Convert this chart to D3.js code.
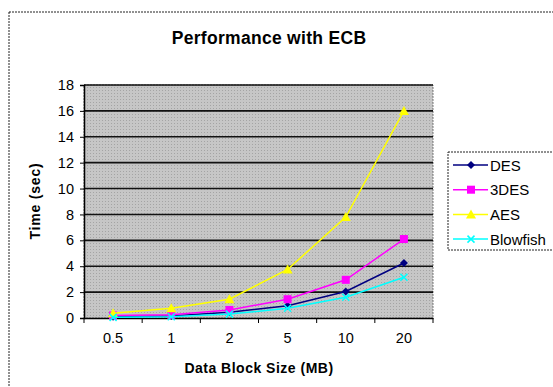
<!DOCTYPE html>
<html><head><meta charset="utf-8">
<script src="https://cdn.jsdelivr.net/npm/d3@7"></script>
<style>body{margin:0;background:#fff}svg{display:block;font-family:"Liberation Sans",Arial,sans-serif}</style>
</head><body><svg id="c" width="553" height="387"></svg>
<script>
const categories = ["0.5","1","2","5","10","20"];
const DES = [0.1, 0.15, 0.45, 0.95, 2.05, 4.25];
const TDES = [0.2, 0.25, 0.62, 1.45, 2.95, 6.1];
const AES = [0.36, 0.75, 1.45, 3.75, 7.8, 16.0];
const Blowfish = [0.05, 0.1, 0.3, 0.75, 1.6, 3.15];
const yTicks = [0,2,4,6,8,10,12,14,16,18];
const series = [
  {name:"DES", values:DES, color:"#000080", marker:"diamond"},
  {name:"3DES", values:TDES, color:"#ff00ff", marker:"square"},
  {name:"AES", values:AES, color:"#ffff00", marker:"triangle"},
  {name:"Blowfish", values:Blowfish, color:"#00ffff", marker:"x"}
];
const svg = d3.select("#c");
const L=84,R=433,T=85,B=318;
const x = d3.scaleBand().domain(categories).range([L,R]);
const y = d3.scaleLinear().domain([0,18]).range([B,T]);
const FF = "Liberation Sans, Arial, sans-serif";

// outer border
svg.append("rect").attr("x",9).attr("y",12).attr("width",600).attr("height",400)
  .attr("fill","#fff").attr("stroke","#222").attr("stroke-dasharray","2,1").attr("stroke-width",1);

// plot background with pattern
const defs = svg.append("defs");
const pat = defs.append("pattern").attr("id","dots").attr("width",3).attr("height",3).attr("patternUnits","userSpaceOnUse");
pat.append("rect").attr("width",3).attr("height",3).attr("fill","#c6c6c6");
pat.append("rect").attr("width",1).attr("height",1).attr("fill","#a4a4a4");
svg.append("rect").attr("x",L).attr("y",T).attr("width",R-L).attr("height",B-T)
  .attr("fill","url(#dots)").attr("stroke","#808080").attr("stroke-dasharray","2,1");

// gridlines
svg.append("g").selectAll("line").data(yTicks.filter(d=>d>0)).join("line")
  .attr("x1",L).attr("x2",R).attr("y1",d=>y(d)).attr("y2",d=>y(d))
  .attr("stroke","#111").attr("stroke-width",1.6);

// y axis
const ya = svg.append("g").attr("transform",`translate(${L},0)`)
  .call(d3.axisLeft(y).tickValues(yTicks).tickSize(4).tickPadding(6));
ya.select(".domain").attr("stroke","#000").attr("stroke-width",1.5);
ya.selectAll(".tick line").attr("stroke","#000");
ya.selectAll("text").attr("font-size",14.5).attr("fill","#000").attr("font-family",FF);

// x axis
const xa = svg.append("g").attr("transform",`translate(0,${B})`)
  .call(d3.axisBottom(x).tickSize(0).tickPadding(15));
xa.select(".domain").attr("stroke","#000").attr("stroke-width",1.5);
xa.selectAll("text").attr("font-size",14.5).attr("fill","#000").attr("font-family",FF);
const bounds = categories.map(c=>x(c)).concat([R]);
svg.append("g").selectAll("line").data(bounds).join("line")
  .attr("x1",d=>d).attr("x2",d=>d).attr("y1",B).attr("y2",B+5).attr("stroke","#000");

// titles
svg.append("text").attr("x",269).attr("y",44).attr("text-anchor","middle")
  .attr("font-size",17.5).attr("font-weight","bold").attr("letter-spacing",0.3).text("Performance with ECB");
svg.append("text").attr("x",259).attr("y",373).attr("text-anchor","middle")
  .attr("font-size",14).attr("font-weight","bold").attr("letter-spacing",0.5).text("Data Block Size (MB)");
svg.append("text").attr("transform","translate(40,201) rotate(-90)").attr("text-anchor","middle")
  .attr("font-size",14).attr("font-weight","bold").attr("letter-spacing",0.8).text("Time (sec)");

function marker(g, type, color){
  if(type==="diamond") g.append("path").attr("d","M0,-4L4,0L0,4L-4,0Z").attr("fill",color);
  else if(type==="square") g.append("rect").attr("x",-4).attr("y",-4).attr("width",8).attr("height",8).attr("fill",color);
  else if(type==="triangle") g.append("path").attr("d","M0,-5L5,4L-5,4Z").attr("fill",color);
  else g.append("path").attr("d","M-3.5,-3.5L3.5,3.5M-3.5,3.5L3.5,-3.5").attr("stroke",color).attr("stroke-width",1.5);
}
const line = d3.line().x((d,i)=>x(categories[i])+x.bandwidth()/2).y(d=>y(d));
series.forEach(s=>{
  svg.append("path").datum(s.values).attr("d",line).attr("fill","none").attr("stroke",s.color).attr("stroke-width",1.5);
  s.values.forEach((v,i)=>{
    const g = svg.append("g").attr("transform",`translate(${x(categories[i])+x.bandwidth()/2},${y(v)})`);
    marker(g,s.marker,s.color);
  });
});

// legend
svg.append("rect").attr("x",448).attr("y",152).attr("width",120).attr("height",98)
  .attr("fill","#fff").attr("stroke","#222").attr("stroke-dasharray","2,1");
series.forEach((s,i)=>{
  const yy = 165 + i*24.7;
  svg.append("line").attr("x1",453).attr("x2",488).attr("y1",yy).attr("y2",yy).attr("stroke",s.color).attr("stroke-width",1.5);
  const g = svg.append("g").attr("transform",`translate(471,${yy})`);
  marker(g,s.marker,s.color);
  svg.append("text").attr("x",490).attr("y",yy+5.5).attr("font-size",15).attr("fill","#000").text(s.name);
});
</script></body></html>
